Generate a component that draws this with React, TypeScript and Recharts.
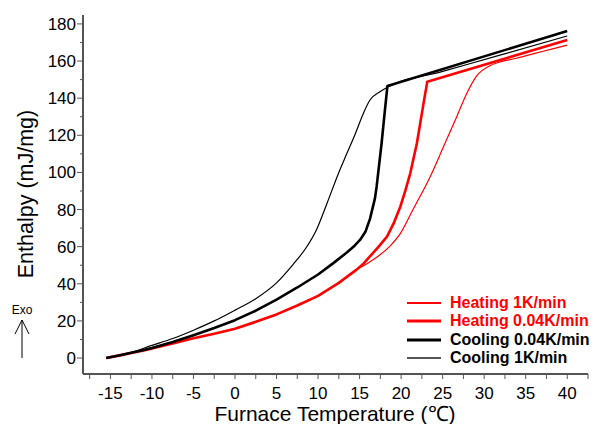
import { LineChart, Line, XAxis, YAxis, Legend, Label } from 'recharts';

const FONT = '"Liberation Sans", Arial, sans-serif';
const AXIS = '#555';

// furnace temperature (°C) and enthalpy (mJ/mg)
const heat1T = [-15.5, -12.5, -10, -7.5, -5, -2.5, 0, 2.5, 5, 7.5, 10, 12.5, 14.6, 16.3, 18.6, 19.9, 21.4, 23.5, 25.1, 26.7, 27.9, 29.1, 30.7, 31.9, 33.9, 36, 38, 40];
const heat1H = [0, 2.7, 5.2, 7.9, 10.6, 13.1, 15.8, 19.5, 23.5, 28.3, 33.5, 40.5, 47.4, 52, 60, 67, 79.7, 97.7, 113.8, 130, 142.5, 152, 157.5, 159.5, 161.5, 164, 166.3, 168.6];

const heat004T = [-15.5, -14, -12.5, -11, -10, -7.5, -5, -2.5, 0, 2.5, 5, 7.5, 10, 12.5, 14.6, 15.5, 16.3, 17.3, 18.3, 19.1, 19.9, 20.5, 21.1, 21.9, 22.7, 23.15, 40];
const heat004H = [0, 1.3, 2.7, 4.1, 5.2, 7.9, 10.6, 13.1, 15.8, 19.5, 23.5, 28.3, 33.5, 40.5, 47.5, 51, 55, 60, 65.4, 72.5, 81.5, 90, 99.5, 115.7, 137.2, 148.9, 171.3];

const cool004T = [-15.5, -14, -12.5, -11, -10, -7.5, -5, -2.5, 0, 2.5, 5, 7.5, 10, 11.8, 13.5, 14.4, 15.05, 15.7, 16.25, 16.85, 17.05, 17.65, 18.05, 18.35, 40];
const cool004H = [0, 1.4, 2.8, 4.3, 5.4, 8.6, 12.3, 16.2, 20.4, 25.5, 31.5, 38, 45, 51, 57, 60.5, 63.6, 68, 75, 86, 92.3, 115.7, 133.6, 146.5, 176.2];

const cool1T = [-15.5, -12.5, -10, -7.5, -5, -2.5, 0, 2.5, 5, 7, 8.5, 9.8, 11.05, 12.5, 13.45, 14.5, 15.45, 16.25, 17.45, 18.4, 25, 32, 40];
const cool1H = [0, 3, 6.8, 10.5, 15, 20, 25.8, 32, 40.5, 50.5, 59, 69, 83, 100, 110, 121, 131.8, 139, 143.5, 146, 154.4, 163.3, 173.5];

const xTicks = [-17.5, -15, -12.5, -10, -7.5, -5, -2.5, 0, 2.5, 5, 7.5, 10, 12.5, 15, 17.5, 20, 22.5, 25, 27.5, 30, 32.5, 35, 37.5, 40, 42.5];
const yTicks = [0, 10, 20, 30, 40, 50, 60, 70, 80, 90, 100, 110, 120, 130, 140, 150, 160, 170, 180];

const zip = (t: number[], h: number[]) => t.map((v, i) => ({ t: v, h: h[i] }));

const series = [
  { name: 'Heating 1K/min', data: zip(heat1T, heat1H), stroke: '#ff0000', width: 1.2, curve: 'monotone', legendStroke: '#ff0000', text: '#ff0000' },
  { name: 'Heating 0.04K/min', data: zip(heat004T, heat004H), stroke: '#ff0000', width: 2.6, curve: 'linear', legendStroke: '#ff0000', text: '#ff0000' },
  { name: 'Cooling 0.04K/min', data: zip(cool004T, cool004H), stroke: '#000000', width: 2.6, curve: 'linear', legendStroke: '#000000', text: '#000000' },
  { name: 'Cooling 1K/min', data: zip(cool1T, cool1H), stroke: '#000000', width: 1.2, curve: 'monotone', legendStroke: '#555555', text: '#000000' },
];

function XTick({ x, y, payload }: any) {
  const major = payload.value % 5 === 0;
  return (
    <g>
      <line x1={x} x2={x} y1={y} y2={y + 5} stroke={AXIS} strokeWidth={1} />
      {major && (
        <text x={x} y={y + 25} textAnchor="middle" fontFamily={FONT} fontSize={17} fill="#000">
          {payload.value}
        </text>
      )}
    </g>
  );
}

function YTick({ x, y, payload }: any) {
  const major = payload.value % 20 === 0;
  return (
    <g>
      <line x1={x - (major ? 6 : 3)} x2={x} y1={y} y2={y} stroke={AXIS} strokeWidth={1} />
      {major && (
        <text x={x - 7} y={y + 6} textAnchor="end" fontFamily={FONT} fontSize={17} fill="#000">
          {payload.value}
        </text>
      )}
    </g>
  );
}

function LegendBox() {
  return (
    <div style={{ fontFamily: FONT, fontWeight: 'bold', fontSize: 16 }}>
      {series.map((s) => (
        <div key={s.name} style={{ display: 'flex', alignItems: 'center', height: 18.3 }}>
          <svg width={36} height={10}>
            <line x1={1} x2={35} y1={5} y2={5} stroke={s.legendStroke} strokeWidth={s.width + 0.6} />
          </svg>
          <span style={{ marginLeft: 8, color: s.text, lineHeight: '18px' }}>{s.name}</span>
        </div>
      ))}
    </div>
  );
}

export default function App() {
  return (
    <div style={{ position: 'absolute', left: 0, top: 0, width: 596, height: 424, background: '#fff' }}>
      <LineChart width={596} height={424} margin={{ top: 15, right: 8, bottom: 0, left: 0 }}>
        <XAxis
          dataKey="t"
          type="number"
          domain={[-18.3, 42.5]}
          ticks={xTicks}
          interval={0}
          allowDataOverflow
          height={50}
          axisLine={{ stroke: AXIS, strokeWidth: 2 }}
          tickLine={false}
          tickSize={0}
          tickMargin={0}
          tick={<XTick />}
        >
          <Label
            content={() => (
              <text x={335} y={421} textAnchor="middle" fontFamily={FONT} fontSize={21} fill="#000">
                Furnace Temperature (℃)
              </text>
            )}
          />
        </XAxis>
        <YAxis
          dataKey="h"
          type="number"
          domain={[-8.6, 184.8]}
          ticks={yTicks}
          interval={0}
          allowDataOverflow
          width={83}
          axisLine={{ stroke: AXIS, strokeWidth: 2 }}
          tickLine={false}
          tickSize={0}
          tickMargin={0}
          tick={<YTick />}
        >
          <Label
            content={() => (
              <text
                x={33}
                y={194}
                transform="rotate(-90 33 194)"
                textAnchor="middle"
                fontFamily={FONT}
                fontSize={21.5}
                fill="#000"
              >
                Enthalpy (mJ/mg)
              </text>
            )}
          />
        </YAxis>
        <Legend
          layout="horizontal"
          verticalAlign="middle"
          align="center"
          content={() => <LegendBox />}
          wrapperStyle={{ left: 406, top: 294, width: 'auto', height: 'auto' }}
        />
        {series.map((s) => (
          <Line
            key={s.name}
            name={s.name}
            data={s.data}
            dataKey="h"
            type={s.curve as any}
            stroke={s.stroke}
            strokeWidth={s.width}
            strokeLinejoin="round"
            dot={false}
            activeDot={false}
            isAnimationActive={false}
          />
        ))}
      </LineChart>
      <svg
        width={596}
        height={424}
        style={{ position: 'absolute', left: 0, top: 0, pointerEvents: 'none' }}
      >
        <text x={22} y={314} textAnchor="middle" fontFamily={FONT} fontSize={12} fill="#000">
          Exo
        </text>
        <line x1={22} x2={22} y1={320} y2={358} stroke="#000" strokeWidth={1} />
        <polyline points="15,334 22,320 29,334" fill="none" stroke="#000" strokeWidth={1} />
      </svg>
    </div>
  );
}
